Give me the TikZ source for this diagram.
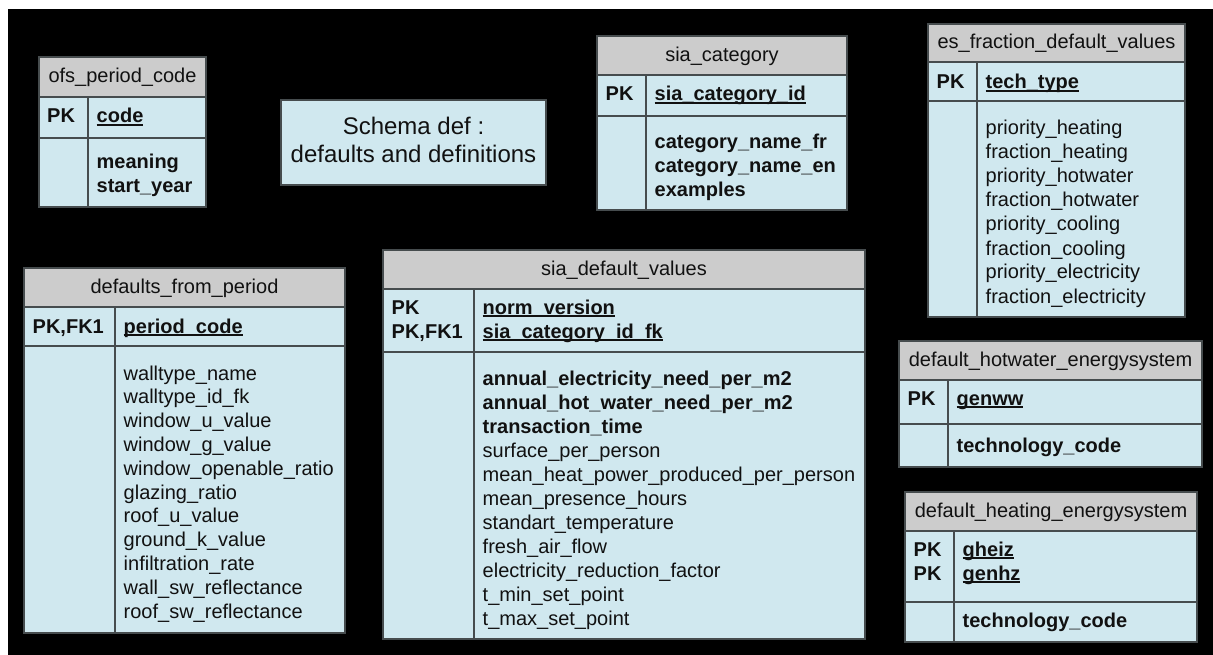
\documentclass[tikz,border=0pt]{standalone}
\usepackage{fontspec}
\setmainfont{Liberation Sans}
\definecolor{hdrgray}{HTML}{CCCCCC}
\definecolor{bodyblue}{HTML}{D0E8EF}
\definecolor{gridline}{HTML}{464C4E}
\definecolor{inktext}{HTML}{111111}
\newcommand\fsz{\fontsize{20}{24}\selectfont}
\newsavebox\keybox
% underlined primary-key field name
\newcommand\keyname[1]{\sbox\keybox{#1}\rlap{\rule[-2.8pt]{\wd\keybox}{1.4pt}}\usebox\keybox}
\tikzset{
  hdr/.style={anchor=base, inner sep=0pt, font=\fsz, text=inktext},
  fld/.style={anchor=base west, inner sep=0pt, font=\fsz, text=inktext},
  keyfld/.style={fld, font=\fsz\bfseries},
  grid/.style={draw=gridline, line width=1.3pt},
  schemabox/.style={draw=gridline, line width=1.3pt, fill=bodyblue, inner sep=0pt},
  schematext/.style={anchor=base, inner sep=0pt, font=\fontsize{24}{28}\selectfont, text=inktext},
}
% #1 name, #2 left, #3 right, #4 top, #5 header bottom, #6 key row bottom, #7 bottom, #8 column divider, #9 title
\newcommand\ertable[9]{%
  \fill[hdrgray] (#2,#4) rectangle (#3,#5);
  \fill[bodyblue] (#2,#5) rectangle (#3,#7);
  \draw[grid] (#2,#5) -- (#3,#5) (#2,#6) -- (#3,#6) (#8,#5) -- (#8,#7);
  \draw[grid] (#2,#4) rectangle (#3,#7);
  \node[hdr] (#1-title) at ({(#2+#3)/2},{(#4+#5)/2+6}) {#9};
}
% #1 name prefix, #2 x, #3 first baseline, #4 line spacing, #5 style, #6 lines
\newcommand\fieldlines[6]{%
  \foreach \fname [count=\lineno] in {#6}
    \node[#5] (#1-\lineno) at (#2,{#3+(\lineno-1)*#4}) {\fname};
}
\begin{document}
\begin{tikzpicture}[x=1pt,y=-1pt]
\useasboundingbox (0,0) rectangle (1213,655);
\fill[white] (0,0) rectangle (1213,655);
\fill[black] (8,9) rectangle (1213,655);

% ofs_period_code
\ertable{ofs}{39}{206}{57}{97}{138}{207}{88}{ofs\_period\_code}
\node[keyfld] (ofs-pk) at (47,123) {PK};
\node[keyfld] (ofs-key) at (96.5,123) {\keyname{code}};
\fieldlines{ofs}{96.5}{169}{24}{keyfld}{meaning,start\_year}

% title box
\node[schemabox, minimum width=265pt, minimum height=85pt] (schema) at (413.5,142.5) {};
\node[schematext] (schema-l1) at (413.5,135) {Schema def :};
\node[schematext] (schema-l2) at (413.5,163) {defaults and definitions};

% sia_category
\ertable{cat}{597}{847}{36}{75}{116}{210}{646}{sia\_category}
\node[keyfld] (cat-pk) at (605.5,101) {PK};
\node[keyfld] (cat-key) at (654.5,101) {\keyname{sia\_category\_id}};
\fieldlines{cat}{654.5}{149}{24}{keyfld}{category\_name\_fr,category\_name\_en,examples}

% es_fraction_default_values
\ertable{esf}{928}{1185}{24}{62}{101}{317}{977}{es\_fraction\_default\_values}
\node[keyfld] (esf-pk) at (936.5,89) {PK};
\node[keyfld] (esf-key) at (985.5,89) {\keyname{tech\_type}};
\fieldlines{esf}{985.5}{135}{24}{fld}{priority\_heating,fraction\_heating,priority\_hotwater,fraction\_hotwater,priority\_cooling,fraction\_cooling,priority\_electricity,fraction\_electricity}

% defaults_from_period
\ertable{dfp}{24}{345}{268}{307}{346}{633}{115}{defaults\_from\_period}
\node[keyfld] (dfp-pk) at (32.5,333) {PK,FK1};
\node[keyfld] (dfp-key) at (123.5,333) {\keyname{period\_code}};
\fieldlines{dfp}{123.5}{380}{23.8}{fld}{walltype\_name,walltype\_id\_fk,window\_u\_value,window\_g\_value,window\_openable\_ratio,glazing\_ratio,roof\_u\_value,ground\_k\_value,infiltration\_rate,wall\_sw\_reflectance,roof\_sw\_reflectance}

% sia_default_values
\ertable{sdv}{383}{865}{250}{289}{352}{639}{474}{sia\_default\_values}
\node[keyfld] (sdv-pk1) at (391.5,314) {PK};
\node[keyfld] (sdv-pk2) at (391.5,338) {PK,FK1};
\node[keyfld] (sdv-key1) at (482.5,314) {\keyname{norm\_version}};
\node[keyfld] (sdv-key2) at (482.5,338) {\keyname{sia\_category\_id\_fk}};
\fieldlines{sdvb}{482.5}{385}{24}{keyfld}{annual\_electricity\_need\_per\_m2,annual\_hot\_water\_need\_per\_m2,transaction\_time}
\fieldlines{sdv}{482.5}{457}{24}{fld}{surface\_per\_person,mean\_heat\_power\_produced\_per\_person,mean\_presence\_hours,standart\_temperature,fresh\_air\_flow,electricity\_reduction\_factor,t\_min\_set\_point,t\_max\_set\_point}

% default_hotwater_energysystem
\ertable{hws}{899}{1202}{341}{380}{424}{467}{948}{default\_hotwater\_energysystem}
\node[keyfld] (hws-pk) at (907.5,405) {PK};
\node[keyfld] (hws-key) at (956.5,405) {\keyname{genww}};
\node[keyfld] (hws-1) at (956.5,452) {technology\_code};

% default_heating_energysystem
\ertable{hts}{905}{1197}{492}{531}{602}{642}{954}{default\_heating\_energysystem}
\node[keyfld] (hts-pk1) at (913.5,556) {PK};
\node[keyfld] (hts-pk2) at (913.5,580) {PK};
\node[keyfld] (hts-key1) at (962.5,556) {\keyname{gheiz}};
\node[keyfld] (hts-key2) at (962.5,580) {\keyname{genhz}};
\node[keyfld] (hts-1) at (962.5,627) {technology\_code};
\end{tikzpicture}
\end{document}
